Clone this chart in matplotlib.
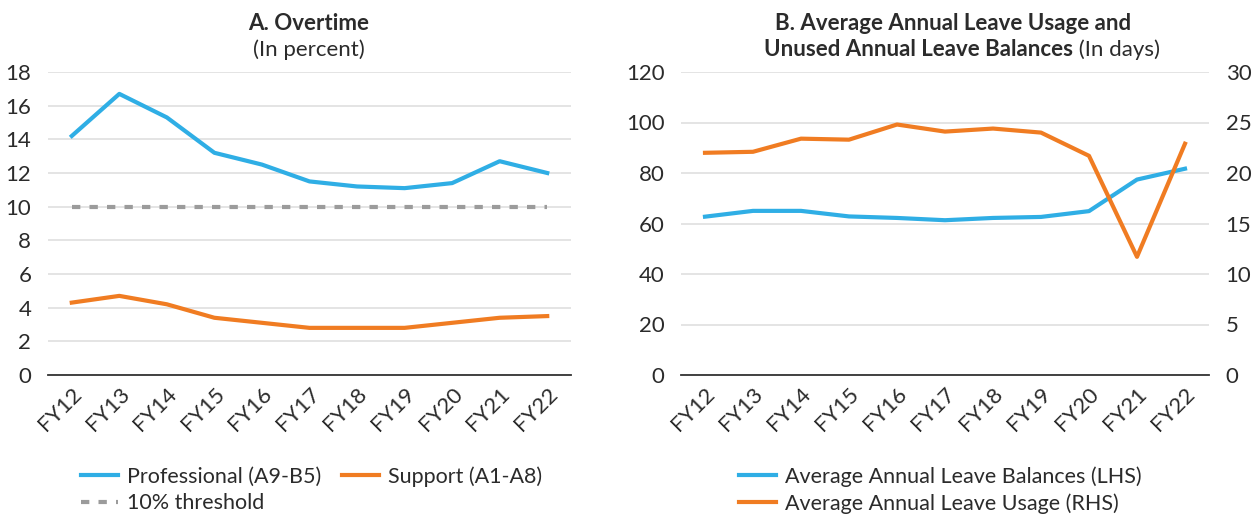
import matplotlib
matplotlib.use("Agg")
import matplotlib.pyplot as plt
import numpy as np

plt.rcParams['font.family'] = ['Lato', 'DejaVu Sans']

# ── Data ──────────────────────────────────────────────────────────────────────
years = ["FY12", "FY13", "FY14", "FY15", "FY16", "FY17",
         "FY18", "FY19", "FY20", "FY21", "FY22"]
professional = [14.2, 16.7, 15.3, 13.2, 12.5, 11.5, 11.2, 11.1, 11.4, 12.7, 12.0]
support      = [4.3, 4.7, 4.2, 3.4, 3.1, 2.8, 2.8, 2.8, 3.1, 3.4, 3.5]
threshold    = [10] * len(years)
balances     = [62.7, 65.0, 65.0, 62.8, 62.2, 61.3, 62.2, 62.6, 64.9, 77.4, 81.7]
usage        = [22.0, 22.1, 23.4, 23.3, 24.8, 24.1, 24.4, 24.0, 21.7, 11.7, 22.9]

BLUE = "#2FAEE5"
ORANGE = "#F07C22"
GREY = "#9B9B9B"
TXT = "#2b2b2b"

fig = plt.figure(figsize=(12.53, 5.16), dpi=100)
W, H = 1253, 516

def px_axes(x0, x1, y0, y1):
    return fig.add_axes([x0 / W, 1 - y1 / H, (x1 - x0) / W, (y1 - y0) / H])

def style(ax):
    for s in ("top", "left", "right"):
        ax.spines[s].set_visible(False)
    ax.spines["bottom"].set_color("#333333")
    ax.spines["bottom"].set_linewidth(1.3)
    ax.grid(axis="y", color="#DDDDDD", linewidth=1.1)
    ax.set_axisbelow(True)
    ax.tick_params(length=0, labelsize=16, colors=TXT, pad=6)
    ax.set_xlim(-0.5, len(years) - 0.5)
    ax.set_xticks(range(len(years)))
    ax.set_xticklabels(years, rotation=45, ha="right", rotation_mode="anchor")

x = np.arange(len(years))

# ── Panel A ───────────────────────────────────────────────────────────────────
ax1 = px_axes(48, 571, 72, 375)
style(ax1)
l1, = ax1.plot(x, professional, color=BLUE, lw=3, label="Professional (A9-B5)")
l2, = ax1.plot(x, support, color=ORANGE, lw=3, label="Support (A1-A8)")
l3, = ax1.plot(x, threshold, color=GREY, lw=3, ls=(0, (2, 2.2)), label="10% threshold")
ax1.set_ylim(0, 18)
ax1.set_yticks(range(0, 19, 2))
ax1.tick_params(axis="y", pad=12)

fig.text(309 / W, 1 - 23 / H, "A. Overtime", ha="center", va="center",
         fontsize=16, fontweight="bold", color=TXT)
fig.text(309 / W, 1 - 50 / H, "(In percent)", ha="center", va="center",
         fontsize=16, color=TXT)

fig.legend([l1, l3, l2], [l1.get_label(), l3.get_label(), l2.get_label()],
           ncol=2, loc="upper left", bbox_to_anchor=(62 / W, 1 - 447 / H),
           frameon=False, fontsize=15.5, handlelength=1.7, handletextpad=0.4,
           columnspacing=1.0, labelspacing=0.3, labelcolor=TXT)

# ── Panel B ───────────────────────────────────────────────────────────────────
ax2 = px_axes(681, 1209, 72, 375)
style(ax2)
ax3 = ax2.twinx()
for s in ax3.spines.values():
    s.set_visible(False)
ax3.tick_params(length=0, labelsize=16, colors=TXT, pad=12)

b1, = ax2.plot(x, balances, color=BLUE, lw=3, label="Average Annual Leave Balances (LHS)")
b2, = ax3.plot(x, usage, color=ORANGE, lw=3, label="Average Annual Leave Usage (RHS)")
ax2.set_ylim(0, 120)
ax2.set_yticks(range(0, 121, 20))
ax2.tick_params(axis="y", pad=12)
ax3.set_ylim(0, 30)
ax3.set_yticks(range(0, 31, 5))

fig.text(953 / W, 1 - 23 / H, "B. Average Annual Leave Usage and", ha="center",
         va="center", fontsize=16, fontweight="bold", color=TXT)
t_bold = fig.text(0, 1 - 50 / H, "Unused Annual Leave Balances", ha="left",
                  va="center", fontsize=16, fontweight="bold", color=TXT)
t_reg = fig.text(0, 1 - 50 / H, " (In days)", ha="left", va="center",
                 fontsize=16, color=TXT)
fig.canvas.draw()
r = fig.canvas.get_renderer()
wb = t_bold.get_window_extent(r).width
wr = t_reg.get_window_extent(r).width
start = 962 - (wb + wr) / 2
t_bold.set_x(start / W)
t_reg.set_x((start + wb) / W)

fig.legend([b1, b2], [b1.get_label(), b2.get_label()],
           loc="upper left", bbox_to_anchor=(720 / W, 1 - 447 / H),
           frameon=False, fontsize=15.5, handlelength=1.7, handletextpad=0.4,
           labelspacing=0.3, labelcolor=TXT)

fig.savefig("out.png", dpi=100)
